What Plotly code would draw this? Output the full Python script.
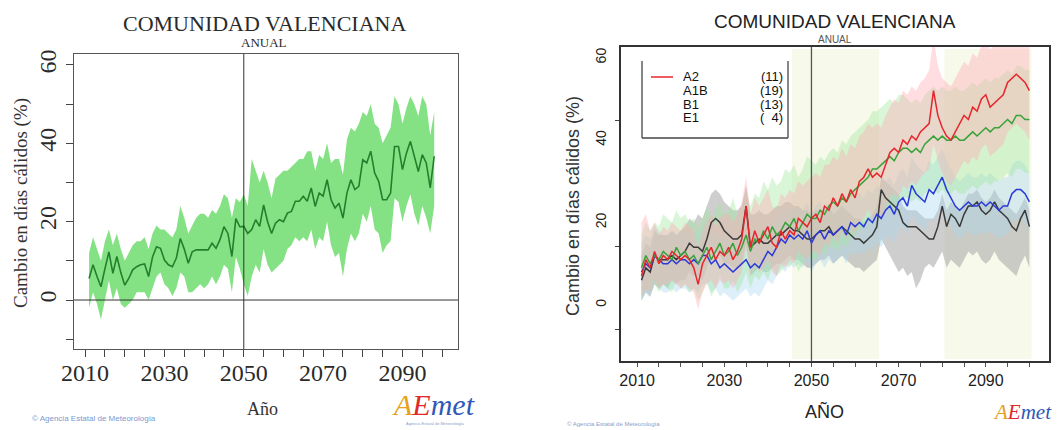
import plotly.graph_objects as go

W, H = 1058, 430

# ---------------- DATA ----------------
years_left = list(range(2011, 2099))
left_mean = [5.5, 9.0, 6.0, 3.4, 8.0, 12.3, 6.8, 11.1, 7.0, 3.8,
             5.5, 7.7, 8.5, 9.0, 9.2, 6.0, 11.0, 13.6, 13.2, 10.2,
             9.0, 8.5, 10.7, 15.7, 13.0, 9.4, 12.3, 12.8, 12.8, 12.8,
             12.8, 14.5, 13.2, 15.4, 18.7, 17.0, 11.1, 20.8, 18.7, 18.8,
             17.0, 18.0, 20.5, 18.8, 24.3, 20.0, 17.0, 19.6, 20.5, 20.0,
             22.2, 22.6, 25.2, 25.2, 26.5, 25.2, 28.6, 23.9, 27.3, 26.5,
             30.7, 25.6, 23.5, 24.7, 20.9, 27.3, 30.7, 28.2, 29.0, 35.8,
             35.0, 38.0, 32.4, 30.3, 25.6, 25.6, 27.3, 39.2, 39.2, 33.3,
             37.5, 40.5, 36.7, 32.8, 37.1, 35.0, 28.6, 36.7]
left_upper = [12, 16, 13, 10, 15, 18, 14, 17, 13, 10,
              12, 14, 15, 15, 16, 13, 17, 19, 18, 18,
              17, 16, 18, 24, 21, 17, 19, 21, 22, 22,
              21, 23, 22, 24, 27, 26, 21, 26, 25, 27,
              24, 36, 33, 30, 33, 30, 26, 31, 32, 33,
              33, 34, 35, 36, 36, 38, 38, 33, 37, 36,
              40, 35, 36, 36, 32, 41, 44, 43, 45, 48,
              47, 50, 45, 44, 40, 42, 44, 52, 50, 45,
              49, 52, 50, 47, 52, 50, 42, 48]
left_lower = [-2, 2, -1, -5, 0, 5, 0, 3, -1, -2,
              -1, 0, 2, 2, 2, 0, 3, 6, 7, 4,
              3, 1, 3, 7, 6, 2, 2, 3, 4, 3,
              4, 6, 4, 6, 9, 8, 2, 11, 8, 4,
              1, 6, 9, 7, 13, 9, 7, 8, 9, 10,
              13, 14, 16, 15, 16, 15, 18, 13, 16, 15,
              20, 14, 11, 12, 6, 13, 17, 15, 17, 22,
              20, 24, 18, 17, 12, 14, 15, 26, 25, 20,
              24, 27, 22, 19, 24, 21, 17, 24]

years_right = list(range(2011, 2101))
a2_mean = [7, 11, 9, 13, 10, 12, 11, 13, 12, 11,
           12, 11, 9, 5, 10, 12, 14, 11, 13, 12,
           14, 11, 13, 16, 24, 14, 18, 15, 17, 19,
           15, 14, 18, 16, 18, 17, 21, 20, 19, 21,
           22, 20, 24, 23, 26, 24, 27, 25, 28, 26,
           30, 31, 33, 31, 32, 31, 34, 37, 38, 37,
           40, 39, 41, 40, 42, 43, 44, 52, 46, 43,
           41, 40, 42, 44, 46, 45, 48, 47, 50, 51,
           48, 49, 50, 51, 54, 55, 56, 55, 54, 52]
a2_upper = [20, 22, 18, 20, 17, 19, 18, 20, 19, 18,
            20, 19, 18, 14, 18, 20, 22, 19, 21, 22,
            22, 20, 22, 25, 31, 22, 26, 24, 26, 28,
            24, 23, 27, 26, 28, 27, 30, 29, 30, 31,
            32, 31, 34, 34, 36, 35, 38, 36, 39, 38,
            41, 42, 44, 43, 44, 43, 46, 48, 50, 49,
            52, 51, 53, 52, 54, 55, 57, 65, 58, 55,
            54, 53, 55, 57, 59, 58, 61, 60, 63, 64,
            62, 63, 64, 65, 66, 67, 68, 67, 66, 65]
a2_lower = [2, 4, 3, 6, 4, 5, 5, 6, 5, 4,
            5, 4, 3, -1, 3, 5, 6, 4, 6, 5,
            6, 4, 6, 8, 14, 7, 10, 8, 9, 11,
            8, 7, 10, 9, 11, 10, 13, 12, 11, 13,
            13, 12, 15, 14, 17, 15, 18, 16, 19, 17,
            20, 21, 23, 21, 22, 21, 24, 26, 27, 26,
            29, 28, 30, 29, 31, 32, 33, 39, 35, 32,
            30, 29, 31, 33, 35, 34, 36, 35, 38, 39,
            36, 37, 38, 39, 42, 43, 44, 43, 42, 40]

a1b_mean = [9, 12, 10, 12, 11, 13, 12, 11, 14, 12,
            13, 11, 12, 10, 12, 14, 11, 13, 15, 12,
            13, 15, 12, 14, 17, 13, 16, 15, 18, 16,
            19, 17, 18, 20, 19, 21, 18, 20, 22, 21,
            21, 23, 22, 24, 25, 24, 26, 25, 27, 28,
            29, 30, 31, 33, 33, 34, 35, 36, 35, 37,
            38, 38, 37, 38, 37, 39, 40, 41, 40, 41,
            40, 40, 41, 40, 40, 41, 42, 41, 42, 43,
            42, 43, 43, 44, 45, 44, 46, 46, 45, 45]
a1b_upper = [17, 20, 18, 20, 19, 22, 21, 20, 23, 21,
             22, 20, 21, 19, 21, 24, 21, 23, 25, 22,
             23, 26, 22, 24, 28, 24, 27, 26, 30, 28,
             31, 29, 30, 33, 32, 34, 31, 33, 36, 35,
             34, 36, 35, 37, 38, 37, 40, 39, 41, 42,
             43, 44, 45, 47, 47, 48, 49, 50, 49, 51,
             51, 50, 49, 50, 49, 51, 52, 53, 52, 53,
             52, 52, 53, 52, 52, 53, 54, 53, 54, 55,
             54, 55, 55, 56, 57, 56, 58, 58, 57, 57]
a1b_lower = [2, 4, 3, 5, 3, 5, 4, 3, 6, 4,
             5, 3, 4, 1, 3, 6, 2, 4, 7, 4,
             4, 6, 3, 5, 8, 4, 7, 6, 8, 6,
             9, 7, 8, 10, 9, 11, 8, 10, 12, 11,
             11, 13, 12, 14, 14, 13, 15, 14, 16, 17,
             18, 19, 20, 22, 21, 22, 23, 24, 23, 25,
             26, 26, 25, 26, 25, 27, 28, 28, 27, 28,
             27, 27, 28, 27, 27, 28, 29, 28, 29, 30,
             29, 30, 30, 31, 32, 31, 33, 33, 32, 32]

b1_mean = [8, 10, 9, 12, 11, 10, 10, 11, 10, 11,
           11, 10, 11, 10, 12, 12, 10, 11, 9, 10,
           9, 8, 9, 10, 11, 9, 10, 9, 11, 13,
           12, 14, 16, 15, 17, 16, 17, 16, 18, 15,
           17, 18, 16, 18, 17, 18, 19, 17, 20, 19,
           20, 19, 21, 20, 22, 21, 23, 24, 22, 25,
           26, 24, 29, 27, 26, 25, 28, 27, 29, 31,
           28, 26, 24, 23, 24, 25, 24, 24, 25, 24,
           25, 24, 23, 24, 24, 27, 28, 28, 27, 25]
b1_upper = [15, 17, 16, 19, 18, 17, 17, 18, 17, 18,
            18, 17, 18, 17, 19, 19, 17, 18, 16, 17,
            16, 15, 16, 17, 18, 16, 17, 16, 18, 20,
            19, 21, 23, 22, 24, 23, 24, 23, 25, 22,
            24, 25, 23, 25, 24, 25, 26, 24, 27, 26,
            27, 26, 28, 27, 29, 28, 30, 31, 29, 32,
            33, 31, 36, 34, 33, 32, 35, 34, 36, 38,
            35, 33, 31, 30, 31, 32, 31, 31, 32, 31,
            32, 31, 30, 31, 31, 34, 35, 35, 34, 32]
b1_lower = [1, 3, 2, 5, 4, 3, 3, 4, 3, 4,
            4, 3, 4, 3, 5, 5, 3, 4, 2, 3,
            2, 1, 2, 3, 4, 2, 3, 2, 4, 6,
            5, 7, 9, 8, 10, 9, 10, 9, 11, 8,
            10, 11, 9, 11, 10, 11, 12, 10, 13, 12,
            13, 12, 14, 13, 15, 14, 16, 17, 15, 18,
            19, 17, 22, 20, 19, 18, 21, 20, 22, 24,
            21, 19, 17, 16, 17, 18, 17, 17, 18, 17,
            18, 17, 16, 17, 17, 20, 21, 21, 20, 18]

e1_mean = [6, 9, 8, 12, 11, 11, 11, 12, 11, 12,
           13, 15, 14, 14, 13, 16, 20, 21, 20, 18,
           17, 16, 16, 17, 24, 14, 15, 16, 15, 15,
           16, 17, 17, 18, 19, 18, 18, 17, 16, 16,
           17, 18, 18, 19, 17, 18, 19, 18, 17, 16,
           16, 15, 16, 17, 19, 28, 26, 25, 24, 23,
           20, 19, 19, 19, 18, 17, 16, 16, 19, 24,
           19, 22, 21, 19, 22, 24, 24, 25, 23, 22,
           23, 25, 23, 22, 21, 19, 18, 21, 23, 19]
e1_upper = [12, 15, 14, 18, 17, 17, 17, 18, 17, 18,
            19, 21, 20, 22, 21, 24, 27, 28, 27, 25,
            24, 23, 23, 24, 29, 22, 22, 23, 22, 22,
            23, 24, 24, 25, 25, 24, 24, 23, 23, 22,
            23, 23, 23, 24, 22, 23, 24, 23, 22, 21,
            21, 20, 21, 22, 24, 31, 30, 29, 28, 27,
            24, 23, 23, 23, 22, 21, 21, 21, 23, 27,
            23, 25, 24, 23, 25, 27, 27, 28, 26, 25,
            26, 28, 26, 25, 24, 23, 22, 24, 26, 23]
e1_lower = [1, 3, 2, 5, 4, 5, 4, 6, 5, 6,
            6, 8, 7, 7, 6, 9, 12, 13, 12, 10,
            10, 9, 9, 10, 15, 7, 8, 9, 8, 8,
            9, 10, 10, 11, 12, 11, 11, 10, 9, 9,
            10, 11, 11, 12, 10, 11, 12, 11, 10, 9,
            9, 8, 9, 10, 11, 16, 14, 12, 10, 8,
            9, 7, 8, 4, 6, 9, 10, 9, 11, 13,
            9, 11, 10, 9, 11, 13, 12, 13, 11, 10,
            11, 13, 11, 10, 9, 8, 7, 10, 12, 9]

scenario_names = ["A2", "A1B", "B1", "E1"]
scenario_counts = ["(11)", "(19)", "(13)", "(  4)"]

x_tick_labels = [2010, 2030, 2050, 2070, 2090]
y_tick_labels = [0, 20, 40, 60]
left_minor_y = [-10, 10, 30, 50]
right_minor_y = [-6, 14.2, 44.7]
ref_year = 2050
shade_periods = [[2046, 2065], [2081, 2100]]

title_text = "COMUNIDAD VALENCIANA"
subtitle_text = "ANUAL"
ylabel_text = "Cambio en días cálidos (%)"
xlabel_left = "Año"
xlabel_right = "AÑO"
credit_text = "© Agencia Estatal de Meteorología"

# ---------------- STYLE ----------------
SERIF = "Liberation Serif"
SANS = "Liberation Sans"


def px(x):
    return x / W


def py(y):
    return 1 - y / H


fig = go.Figure()

# ----- left panel -----
fig.add_trace(go.Scatter(x=years_left, y=left_lower, mode="lines", line=dict(width=0),
                         hoverinfo="skip", showlegend=False, xaxis="x", yaxis="y"))
fig.add_trace(go.Scatter(x=years_left, y=left_upper, mode="lines", line=dict(width=0),
                         fill="tonexty", fillcolor="rgb(132,226,132)",
                         hoverinfo="skip", showlegend=False, xaxis="x", yaxis="y"))
fig.add_trace(go.Scatter(x=years_left, y=left_mean, mode="lines",
                         line=dict(color="rgb(34,128,44)", width=1.6),
                         showlegend=False, xaxis="x", yaxis="y"))

# ----- right panel -----
bands = [
    (e1_lower, e1_upper, "rgba(165,165,165,0.55)"),
    (b1_lower, b1_upper, "rgba(170,215,240,0.40)"),
    (a1b_lower, a1b_upper, "rgba(160,232,160,0.40)"),
    (a2_lower, a2_upper, "rgba(255,170,180,0.40)"),
]
for lo, up, col in bands:
    fig.add_trace(go.Scatter(x=years_right, y=lo, mode="lines", line=dict(width=0),
                             hoverinfo="skip", showlegend=False, xaxis="x2", yaxis="y2"))
    fig.add_trace(go.Scatter(x=years_right, y=up, mode="lines", line=dict(width=0),
                             fill="tonexty", fillcolor=col,
                             hoverinfo="skip", showlegend=False, xaxis="x2", yaxis="y2"))

lines = [
    (e1_mean, "#3a3a3a", "E1"),
    (b1_mean, "#2a3ad8", "B1"),
    (a1b_mean, "#3aa23a", "A1B"),
    (a2_mean, "#e8242c", "A2"),
]
for vals, col, name in lines:
    fig.add_trace(go.Scatter(x=years_right, y=vals, mode="lines", name=name,
                             line=dict(color=col, width=1.5),
                             showlegend=False, xaxis="x2", yaxis="y2"))

# ----- shapes -----
shapes = []
for p0, p1 in shade_periods:
    shapes.append(dict(type="rect", xref="x2", yref="paper", x0=p0 - 0.5, x1=p1 + 0.5,
                       y0=py(359), y1=py(49), fillcolor="rgba(242,245,220,0.6)",
                       line=dict(width=0), layer="below"))
shapes.append(dict(type="line", xref="paper", yref="y", x0=px(74), x1=px(458), y0=0, y1=0,
                   line=dict(color="#333", width=1)))
shapes.append(dict(type="line", xref="x", yref="paper", x0=ref_year, x1=ref_year,
                   y0=py(349), y1=py(54), line=dict(color="#333", width=1)))
shapes.append(dict(type="line", xref="x2", yref="paper", x0=ref_year, x1=ref_year,
                   y0=py(361), y1=py(47), line=dict(color="#555", width=1.3)))
lg = "#444"
shapes.append(dict(type="line", xref="paper", yref="paper", x0=px(642), x1=px(642),
                   y0=py(61), y1=py(138), line=dict(color=lg, width=1.3)))
shapes.append(dict(type="line", xref="paper", yref="paper", x0=px(788), x1=px(788),
                   y0=py(61), y1=py(138), line=dict(color=lg, width=1.3)))
shapes.append(dict(type="line", xref="paper", yref="paper", x0=px(642), x1=px(788),
                   y0=py(138), y1=py(138), line=dict(color=lg, width=1.3)))
shapes.append(dict(type="line", xref="paper", yref="paper", x0=px(651), x1=px(673),
                   y0=py(77), y1=py(77), line=dict(color="#e8242c", width=1.5)))

# ----- annotations -----
ann = []


def A(text, x, y, size, family, color="#222", xanchor="center", yanchor="middle", angle=0, **kw):
    ann.append(dict(text=text, x=px(x), y=py(y), xref="paper", yref="paper",
                    showarrow=False, xanchor=xanchor, yanchor=yanchor, textangle=angle,
                    font=dict(size=size, family=family, color=color), **kw))


A(title_text, 264, 23, 22, SERIF, "#2a2a2a")
A(subtitle_text, 264, 43, 13, SERIF, "#2a2a2a")
A(ylabel_text, 21, 203, 19, SERIF, "#333", angle=-90)
A(xlabel_left, 262, 409, 18, SERIF, "#333")
A(credit_text, 30, 418, 8, SANS, "#7a9ad0", xanchor="left")
A("<i><span style='color:#e8a020'>A</span><span style='color:#e02a2a'>E</span>"
  "<span style='color:#2f58b8'>met</span></i>", 433, 404, 30, SERIF)
A("Agencia Estatal de Meteorología", 435, 423, 4, SANS, "#8aa0c8")

A(title_text, 835, 22, 19, SANS, "#222")
A(subtitle_text, 835, 40, 10, SANS, "#555")
A(ylabel_text, 573, 206, 18, SANS, "#333", angle=-90)
A(xlabel_right, 824, 411, 18, SANS, "#222")
A(credit_text, 565, 424, 6, SANS, "#8aa0c8", xanchor="left")
A("<i><span style='color:#e8a020'>A</span><span style='color:#e02a2a'>E</span>"
  "<span style='color:#2f58b8'>met</span></i>", 1054, 412, 21, SERIF, xanchor="right")

leg_y = [77, 91, 104.5, 118]
for name, cnt, yy in zip(scenario_names, scenario_counts, leg_y):
    A(name, 681, yy, 13, SANS, "#111", xanchor="left")
    A(cnt, 785, yy, 13, SANS, "#111", xanchor="right")

fig.update_layout(
    width=W, height=H,
    margin=dict(l=0, r=0, t=0, b=0, autoexpand=False),
    paper_bgcolor="white", plot_bgcolor="white",
    shapes=shapes, annotations=ann,
    xaxis=dict(domain=[px(74), px(458)], range=[2007.2, 2104], anchor="y", automargin=False,
               tickmode="array", tickvals=x_tick_labels,
               ticks="outside", ticklen=7, tickcolor="#444", ticklabelstandoff=-5,
               tickfont=dict(family=SERIF, size=24, color="#2a2a2a"),
               minor=dict(tick0=2010, dtick=5, ticks="outside", ticklen=7, tickcolor="#444"),
               showline=True, mirror=True, linecolor="#555", linewidth=1,
               showgrid=False, zeroline=False),
    yaxis=dict(domain=[py(349), py(54)], range=[-12.5, 62.8], anchor="x", automargin=False,
               tickmode="array", tickvals=y_tick_labels, tickangle=-90,
               ticks="outside", ticklen=7, tickcolor="#444",
               tickfont=dict(family=SERIF, size=24, color="#2a2a2a"),
               minor=dict(tickmode="array", tickvals=left_minor_y, ticks="outside",
                          ticklen=7, tickcolor="#444"),
               showline=True, mirror=True, linecolor="#555", linewidth=1,
               showgrid=False, zeroline=False),
    xaxis2=dict(domain=[px(621), px(1049)], range=[2006.3, 2104.5], anchor="y2", automargin=False,
                tickmode="array", tickvals=x_tick_labels,
                ticks="outside", ticklen=4, tickcolor="#555",
                tickfont=dict(family=SANS, size=16, color="#222"),
                minor=dict(tick0=2010, dtick=5, ticks="outside", ticklen=4, tickcolor="#555"),
                showline=True, mirror=True, linecolor="#333", linewidth=1.5,
                showgrid=False, zeroline=False),
    yaxis2=dict(domain=[py(361), py(47)], range=[-13.6, 62.6], anchor="x2", automargin=False,
                tickmode="array", tickvals=y_tick_labels, tickangle=-90,
                ticks="", ticklabelstandoff=8,
                tickfont=dict(family=SANS, size=14, color="#222"),
                minor=dict(tickmode="array", tickvals=right_minor_y, ticks="outside",
                           ticklen=4, tickcolor="#444"),
                showline=True, mirror=True, linecolor="#333", linewidth=1.5,
                showgrid=False, zeroline=False),
)

fig.write_html("out.html", config={"displayModeBar": False},
               post_script="document.body.style.margin='0';document.body.style.overflow='hidden';")
